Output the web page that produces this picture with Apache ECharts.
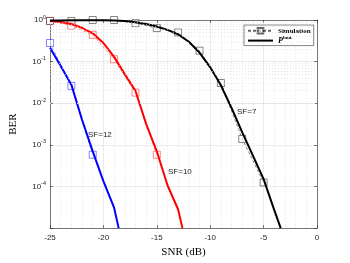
<!DOCTYPE html>
<html><head><meta charset="utf-8">
<script src="https://cdn.jsdelivr.net/npm/echarts@6/dist/echarts.min.js"></script>
<style>html,body{margin:0;padding:0;background:#fff}#c{width:350px;height:263px}</style>
</head><body><div id="c"></div>
<script>
// ---- data ----
var snrSim7 = [-25,-23,-21,-19,-17,-15,-13,-11,-9,-7,-5];
var sim7 = [0.95,0.95,1.0,1.0,0.84,0.64,0.5,0.183,0.0306,1.39e-3,1.25e-4];
var snrSim10 = [-25,-23,-21,-19,-17,-15];
var sim10 = [0.95,0.73,0.44,0.114,0.018,5.8e-4];
var snrSim12 = [-25,-23,-21];
var sim12 = [0.28,0.026,5.8e-4];

var snrTh7 = [-25,-24,-23,-22,-21,-20,-19,-18,-17,-16,-15,-14,-13,-12,-11,-10,-9,-8,-7,-6,-5,-4,-3.4];
var th7 = [0.97,0.97,0.98,0.99,0.99,0.98,0.97,0.94,0.88,0.8,0.7,0.58,0.45,0.3,0.165,0.073,0.027,7.7e-3,2.0e-3,5.5e-4,1.5e-4,2.7e-5,1e-5];
var snrTh10 = [-25,-24,-23,-22,-21,-20,-19,-18,-17,-16,-15,-14,-13,-12.6];
var th10 = [0.95,0.9,0.8,0.65,0.48,0.28,0.13,0.05,0.02,3.2e-3,7e-4,1.07e-4,2.8e-5,1e-5];
var snrTh12 = [-25,-24,-23,-22,-21,-20,-19,-18.57];
var th12 = [0.215,0.078,0.028,4e-3,7e-4,1.35e-4,3.1e-5,1e-5];

var xTicks = [-25,-20,-15,-10,-5,0];
var yExponents = [0,-1,-2,-3,-4];
var minorY = [];
for (var e = -5; e < 0; e++) { for (var m = 2; m <= 9; m++) minorY.push(m * Math.pow(10, e)); }

function pairs(xs, ys){ return xs.map(function(x,i){ return [x, ys[i]]; }); }

var chart = echarts.init(document.getElementById('c'), null, {renderer:'canvas'});
var serif = 'Liberation Serif';
var sans = 'Liberation Sans';
function simSeries(name, xs, ys, color){
  return {name:name, type:'line', data:pairs(xs,ys), symbol:'rect', symbolSize:7,
    showSymbol:true, itemStyle:{color:'#fff', borderColor:color, borderWidth:0.8, opacity:0.6},
    lineStyle:{color:color, width:0.8, type:[3,2], opacity:0.6}, z:3, animation:false};
}
function thSeries(name, xs, ys, color){
  return {name:name, type:'line', data:pairs(xs,ys), symbol:'none', itemStyle:{color:color},
    lineStyle:{color:color, width:2}, z:4, animation:false};
}
var option = {
  animation:false,
  grid:{left:45, right:33, top:20, bottom:31, show:false},
  legend:{
    data:['Simulation', {name:'Pb', itemStyle:{opacity:0}}],
    left:244, top:25, orient:'vertical', backgroundColor:'#fff', borderColor:'#333', borderWidth:0.6,
    padding:[2,3,1,3], itemWidth:25, itemHeight:7, itemGap:1,
    textStyle:{fontFamily:serif, fontSize:7, color:'#000', fontWeight:'bold',
      rich:{P:{fontFamily:serif, fontStyle:'italic', fontSize:8, color:'#000'}, s:{fontFamily:serif, fontSize:5, color:'#000', padding:[0,0,5,0]}}},
    formatter:function(n){ return n==='Pb' ? '{P|P}{s|bnd.}' : n; }
  },
  xAxis:[{type:'value', min:-25, max:0, interval:5,
    axisLine:{show:true, onZero:false, lineStyle:{color:'#262626', width:0.6}},
    axisTick:{show:true, inside:true, length:3, lineStyle:{color:'#262626', width:0.6}},
    axisLabel:{fontFamily:sans, fontSize:8, color:'#262626', margin:6},
    minorTick:{show:false}, splitNumber:5,
    minorSplitLine:{show:true, lineStyle:{color:'#d8d8d8', width:0.6, type:[1,2]}},
    splitLine:{show:true, lineStyle:{color:'#e2e2e2', width:0.7}},
    name:'SNR (dB)', nameLocation:'middle', nameGap:17,
    nameTextStyle:{fontFamily:serif, fontSize:11, color:'#000'}},
   {type:'value', min:-25, max:0, interval:5, position:'top',
    axisLine:{show:true, onZero:false, lineStyle:{color:'#262626', width:0.6}},
    axisTick:{show:true, inside:true, length:3, lineStyle:{color:'#262626', width:0.6}},
    axisLabel:{show:false}, splitLine:{show:false}}],
  yAxis:[{type:'log', logBase:10, min:1e-5, max:1,
    axisLine:{show:true, onZero:false, lineStyle:{color:'#262626', width:0.6}},
    axisTick:{show:true, inside:true, length:3, lineStyle:{color:'#262626', width:0.6}},
    axisLabel:{fontFamily:sans, fontSize:8, color:'#262626', margin:4,
      formatter:function(v){ var ex=Math.round(Math.log10(v)); if(ex<=-5) return ''; return '{b|10}{s|'+ex+'}'; },
      rich:{b:{fontFamily:sans, fontSize:8, color:'#262626'}, s:{fontFamily:sans, fontSize:5.5, color:'#262626', padding:[0,0,6,0]}}},
    splitLine:{show:true, lineStyle:{color:'#e2e2e2', width:0.7}},
    name:'BER', nameLocation:'middle', nameGap:31, nameRotate:90,
    nameTextStyle:{fontFamily:serif, fontSize:11, color:'#000'}},
   {type:'log', logBase:10, min:1e-5, max:1, position:'right',
    axisLine:{show:true, onZero:false, lineStyle:{color:'#262626', width:0.6}},
    axisTick:{show:true, inside:true, length:3, lineStyle:{color:'#262626', width:0.6}},
    axisLabel:{show:false}, splitLine:{show:false}}],
  graphic:[
    {type:'text', left:88, top:131, style:{text:'SF=12', font:'8px '+sans, fill:'#222'}},
    {type:'text', left:168, top:168, style:{text:'SF=10', font:'8px '+sans, fill:'#222'}},
    {type:'text', left:237, top:108, style:{text:'SF=7', font:'8px '+sans, fill:'#222'}}
  ],
  series:[
    {name:'minor', type:'line', data:[], silent:true, xAxisIndex:0, yAxisIndex:0,
     markLine:{silent:true, symbol:'none', label:{show:false}, animation:false,
       lineStyle:{color:'#d8d8d8', width:0.6, type:[1,2]},
       data:minorY.map(function(v){ return {yAxis:v}; })}},
    thSeries('th12', snrTh12, th12, '#0000ff'),
    thSeries('th10', snrTh10, th10, '#ff0000'),
    thSeries('Pb', snrTh7, th7, '#000000'),
    simSeries('sim12', snrSim12, sim12, '#0000ff'),
    simSeries('sim10', snrSim10, sim10, '#ff0000'),
    simSeries('Simulation', snrSim7, sim7, '#000000')
  ]
};
chart.setOption(option);
</script></body></html>
